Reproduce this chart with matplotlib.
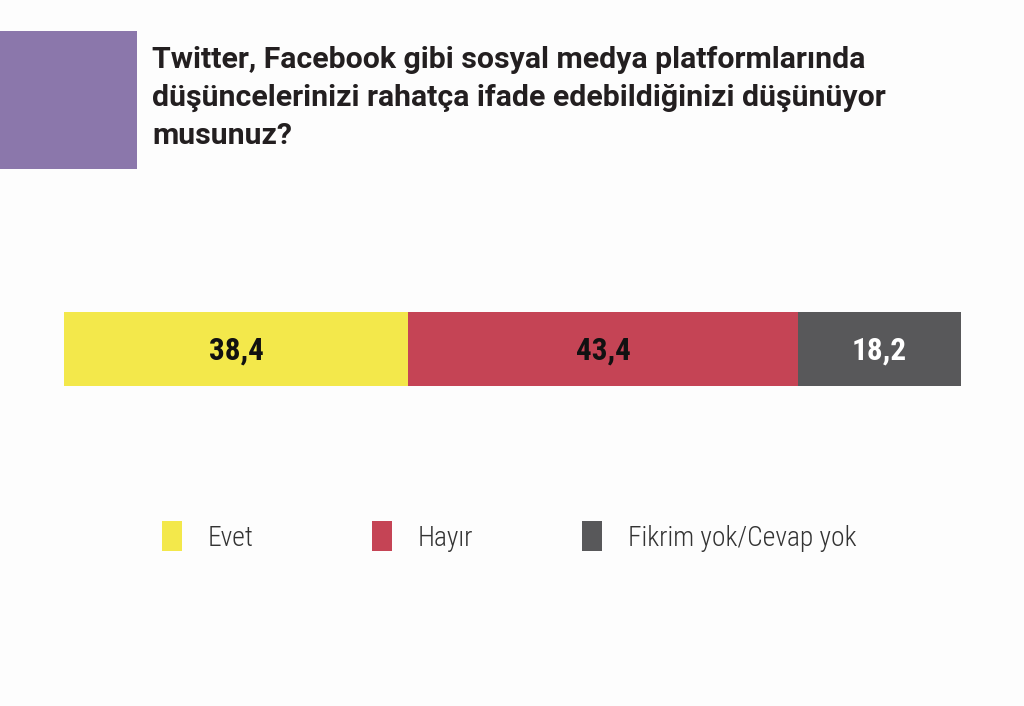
import matplotlib
matplotlib.use("Agg")
import matplotlib.pyplot as plt
from matplotlib.patches import Rectangle

# veriler
kategoriler = ["Evet", "Hayır", "Fikrim yok/Cevap yok"]
degerler = [38.4, 43.4, 18.2]
etiketler = ["38,4", "43,4", "18,2"]
renkler = ["#F3E84B", "#C54455", "#58585A"]
yazi_renkleri = ["#111111", "#111111", "#FFFFFF"]
baslik_satirlari = ["Twitter, Facebook gibi sosyal medya platformlarında",
                    "düşüncelerinizi rahatça ifade edebildiğinizi düşünüyor",
                    "musunuz?"]

dar = ["Roboto Condensed", "Barlow Condensed", "DejaVu Sans"]

W, H = 1024, 706
fig = plt.figure(figsize=(W / 100, H / 100), dpi=100, facecolor="#FDFDFD")

# arka plan katmanı (piksel koordinatları)
zemin = fig.add_axes([0, 0, 1, 1])
zemin.set_xlim(0, W)
zemin.set_ylim(H, 0)
zemin.axis("off")

zemin.add_patch(Rectangle((0, 31), 137, 138, color="#8B77AB", lw=0))
# başlık satırları, satır aralığı ~38 px
for i, satir in enumerate(baslik_satirlari):
    zemin.text(152, 68 + i * 38, satir, fontsize=21.8, fontweight="bold",
               family=["Roboto", "DejaVu Sans"], color="#231F20",
               va="baseline", ha="left")

# yığılmış çubuk
ax = fig.add_axes([64 / W, 1 - 386 / H, (961 - 64) / W, (386 - 312) / H])
sol = 0
for deger, renk, etiket, yr in zip(degerler, renkler, etiketler, yazi_renkleri):
    ax.barh(0, deger, left=sol, color=renk, height=1, lw=0)
    ax.text(sol + deger / 2, -0.02, etiket, ha="center", va="center",
            fontsize=22.5, fontweight="bold", family=dar, color=yr)
    sol += deger
ax.set_xlim(0, sum(degerler))
ax.set_ylim(-0.5, 0.5)
ax.axis("off")

# lejant
kutu_x = [162, 372, 582]
for x, renk, ad in zip(kutu_x, renkler, kategoriler):
    zemin.add_patch(Rectangle((x, 521), 20, 30, color=renk, lw=0))
    zemin.text(x + 46, 546, ad, fontsize=19.8, fontweight="light",
               family=dar, color="#333333", va="baseline", ha="left")

fig.savefig("out.png", dpi=100, facecolor=fig.get_facecolor())
